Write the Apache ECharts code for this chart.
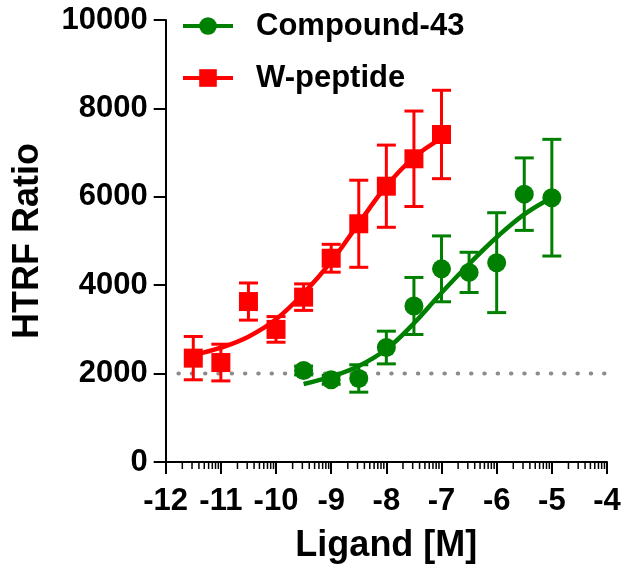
<!DOCTYPE html>
<html>
<head>
<meta charset="utf-8">
<script src="https://cdn.jsdelivr.net/npm/echarts@6/dist/echarts.min.js"></script>
<style>html,body{margin:0;padding:0;background:#fff}#c{width:623px;height:566px}</style>
</head>
<body>
<div id="c"></div>
<script>
// Data
const redName = 'W-peptide';
const greenName = 'Compound-43';
const redX = [-11.5, -11, -10.5, -10, -9.5, -9, -8.5, -8, -7.5, -7];
const redMean = [2350, 2250, 3630, 3000, 3730, 4610, 5390, 6240, 6860, 7410];
const redErr = [490, 415, 420, 290, 300, 315, 985, 930, 1080, 1000];
const greenX = [-9.5, -9, -8.5, -8, -7.5, -7, -6.5, -6, -5.5, -5];
const greenMean = [2070, 1860, 1890, 2590, 3530, 4370, 4290, 4510, 6060, 5980];
const greenErr = [100, 100, 310, 370, 645, 745, 455, 1130, 820, 1320];
// Fitted curves
const redCurveX = [-11.5, -11, -10.5, -10, -9.5, -9, -8.5, -8, -7.5, -7];
const redCurveY = [2420, 2586, 2835, 3228, 3816, 4532, 5400, 6244, 6893, 7323];
const greenCurveX = [-9.5, -9, -8.5, -8, -7.5, -7, -6.5, -6, -5.5, -5];
const greenCurveY = [1765, 1930, 2172, 2550, 3138, 3830, 4480, 5084, 5604, 5980];
const baseline = 2000;
const xTicks = [-12, -11, -10, -9, -8, -7, -6, -5, -4];
const yTicks = [0, 2000, 4000, 6000, 8000, 10000];

const RED = '#ff0000', GREEN = '#008000';
const FONT = 'Liberation Sans';

function errData(xs, m, e) { return xs.map((x, i) => [x, m[i] - e[i], m[i] + e[i]]); }
function pairs(xs, ys) { return xs.map((x, i) => [x, ys[i]]); }

function errRender(color) {
  return function (params, api) {
    const x = api.value(0);
    const lo = api.coord([x, api.value(1)]);
    const hi = api.coord([x, api.value(2)]);
    const w = 9.5;
    const st = { stroke: color, lineWidth: 3 };
    return { type: 'group', children: [
      { type: 'line', shape: { x1: lo[0], y1: lo[1], x2: hi[0], y2: hi[1] }, style: st },
      { type: 'line', shape: { x1: lo[0] - w, y1: lo[1], x2: lo[0] + w, y2: lo[1] }, style: st },
      { type: 'line', shape: { x1: hi[0] - w, y1: hi[1], x2: hi[0] + w, y2: hi[1] }, style: st }
    ]};
  };
}

const decades = xTicks.slice(0, -1);
const chart = echarts.init(document.getElementById('c'), null, { renderer: 'canvas' });
chart.setOption({
  animation: false,
  backgroundColor: '#fff',
  grid: { left: 165.7, top: 20, width: 441.3, height: 442, containLabel: false, outerBoundsMode: 'none' },
  legend: {
    data: [greenName, redName],
    orient: 'vertical', left: 176, top: 5,
    itemWidth: 50, itemHeight: 22, itemGap: 20,
    lineStyle: { width: 4 },
    textStyle: { fontFamily: FONT, fontWeight: 'bold', fontSize: 31, color: '#000', lineHeight: 32, padding: [0, 0, 0, 18] }
  },
  xAxis: {
    type: 'value', min: -12, max: -4, interval: 1,
    name: 'Ligand [M]', nameLocation: 'middle', nameGap: 66,
    nameTextStyle: { fontFamily: FONT, fontWeight: 'bold', fontSize: 36, color: '#000' },
    axisLine: { lineStyle: { color: '#000', width: 2 } },
    axisTick: { inside: false, length: 12, lineStyle: { color: '#000', width: 2 } },
    axisLabel: { margin: 24, fontFamily: FONT, fontWeight: 'bold', fontSize: 31, color: '#000', formatter: v => String(v) },
    splitLine: { show: false }
  },
  yAxis: {
    type: 'value', min: 0, max: 10000, interval: 2000,
    name: 'HTRF Ratio', nameLocation: 'middle', nameGap: 120, nameRotate: 90,
    nameTextStyle: { fontFamily: FONT, fontWeight: 'bold', fontSize: 36, color: '#000' },
    axisLine: { show: true, onZero: false, lineStyle: { color: '#000', width: 2 } },
    axisTick: { show: true, length: 12, lineStyle: { color: '#000', width: 2 } },
    axisLabel: { margin: 18, fontFamily: FONT, fontWeight: 'bold', fontSize: 31, color: '#000', formatter: v => String(v) },
    splitLine: { show: false }
  },
  series: [
    { // log minor ticks on x axis
      type: 'custom', silent: true, clip: false, z: 1,
      data: decades.map(d => [d]),
      renderItem: function (params, api) {
        const d = api.value(0);
        const ch = [];
        for (let k = 2; k <= 9; k++) {
          const p = api.coord([d + Math.log10(k), 0]);
          ch.push({ type: 'line', shape: { x1: p[0], y1: p[1], x2: p[0], y2: p[1] + 7 }, style: { stroke: '#000', lineWidth: 1.5 } });
        }
        return { type: 'group', children: ch };
      }
    },
    { // baseline dotted
      type: 'line', name: 'baseline', data: [[xTicks[0], baseline], [xTicks[xTicks.length - 1], baseline]],
      symbol: 'none', silent: true, z: 1,
      lineStyle: { color: '#8c8c8c', width: 4, type: [0.5, 12.8], dashOffset: 0.6, cap: 'round' }
    },
    { type: 'custom', name: 'errG', data: errData(greenX, greenMean, greenErr), renderItem: errRender(GREEN), z: 2 },
    { type: 'custom', name: 'errR', data: errData(redX, redMean, redErr), renderItem: errRender(RED), z: 2 },
    {
      type: 'line', name: greenName, data: pairs(greenCurveX, greenCurveY), smooth: 0.4,
      symbol: 'circle', symbolSize: 18, showSymbol: false, z: 3,
      itemStyle: { color: GREEN }, lineStyle: { color: GREEN, width: 4.5 }
    },
    {
      type: 'line', name: redName, data: pairs(redCurveX, redCurveY), smooth: 0.4,
      symbol: 'rect', symbolSize: 18, showSymbol: false, z: 3,
      itemStyle: { color: RED }, lineStyle: { color: RED, width: 4.5 }
    },
    { type: 'scatter', name: 'ptsG', data: pairs(greenX, greenMean), symbol: 'circle', symbolSize: 19, itemStyle: { color: GREEN, opacity: 1 }, z: 4 },
    { type: 'scatter', name: 'ptsR', data: pairs(redX, redMean), symbol: 'rect', symbolSize: 19, itemStyle: { color: RED, opacity: 1 }, z: 4 }
  ]
});
</script>
</body>
</html>
